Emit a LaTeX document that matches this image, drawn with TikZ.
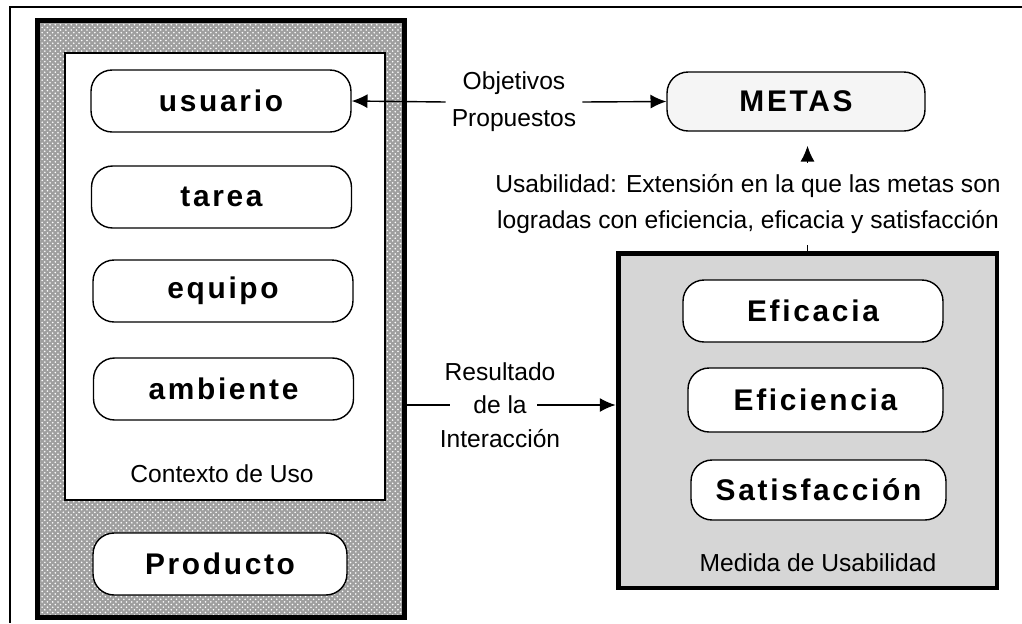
\documentclass[tikz,border=0pt]{standalone}
\usepackage{fontspec}
\setmainfont{Liberation Sans}
\newfontfamily\cajafont[LetterSpace=9]{Liberation Sans}
\usetikzlibrary{arrows.meta,patterns}

\begin{document}
\begin{tikzpicture}[x=0.02cm,y=-0.02cm,
  caja/.style={draw=black,line width=0.8pt,rounded corners=12pt,fill=white,
    minimum width=5.2cm,minimum height=1.24cm,
    font=\cajafont\fontsize{17}{20}\selectfont\bfseries},
  texto/.style={align=center,font=\fontsize{14}{21}\selectfont},
  flecha/.style={-{Latex[length=9pt,width=8pt]},line width=0.8pt}]
  \useasboundingbox (0,0) rectangle (1022,623);
  \draw[line width=1.1pt] (1022,7) -- (10,7) -- (10,623);

  \node[draw=black,line width=2.8pt,preaction={fill=gray!75},pattern=crosshatch dots,
    pattern color=white,minimum width=7.33cm,minimum height=11.96cm] (izq) at (221,319) {};
  \node[draw=black,line width=1.2pt,fill=white,minimum width=6.4cm,minimum height=8.94cm] (contexto) at (225,276.5) {};
  \node[draw=black,line width=2.8pt,fill=gray!32,minimum width=7.58cm,minimum height=6.7cm] (medida) at (807.5,420.5) {};

  \node[caja] (usuario) at (221,101) {usuario};
  \node[caja] (tarea) at (221.5,197) {tarea};
  \node[caja] (equipo) at (223,291) {equipo};
  \node[caja] (ambiente) at (223.5,389) {ambiente};
  \node[texto] (uso) at (222,474) {Contexto de Uso};
  \node[caja,minimum width=5.08cm] (producto) at (220,564) {Producto};

  \node[caja,fill=gray!8,minimum width=5.16cm,minimum height=1.18cm] (metas) at (796,101.5) {METAS};

  \node[caja,minimum width=5.2cm] (eficacia) at (813,311) {Eficacia};
  \node[caja,minimum width=5.1cm,minimum height=1.28cm] (eficiencia) at (815.5,400) {Eficiencia};
  \node[caja,minimum width=5.1cm,minimum height=1.2cm] (satisfaccion) at (818.5,490) {Satisfacción};
  \node[texto] (medidalabel) at (818,563) {Medida de Usabilidad};

  \node[texto] (objetivos) at (514,102) {Objetivos\\Propuestos};
  \node[texto,font=\fontsize{14}{19}\selectfont] (resultado) at (500,405) {Resultado\\de la\\Interacción};

  \draw[flecha] (objetivos.west) -- (usuario.east);
  \draw[flecha] (objetivos.east) -- (metas.west);

  \coordinate (r1) at (450,405);
  \coordinate (r2) at (537,405);
  \draw[line width=0.8pt] (izq.east |- r1) -- (r1);
  \draw[flecha] (r2) -- (medida.west |- r2);

  \draw[flecha,shorten >=8pt] (medida.north) -- (medida.north |- metas.south);
  \node[texto,fill=white,inner sep=6pt] (usabilidad) at (748,204)
    {Usabilidad: Extensión en la que las metas son\\logradas con eficiencia, eficacia y satisfacción};
\end{tikzpicture}
\end{document}
